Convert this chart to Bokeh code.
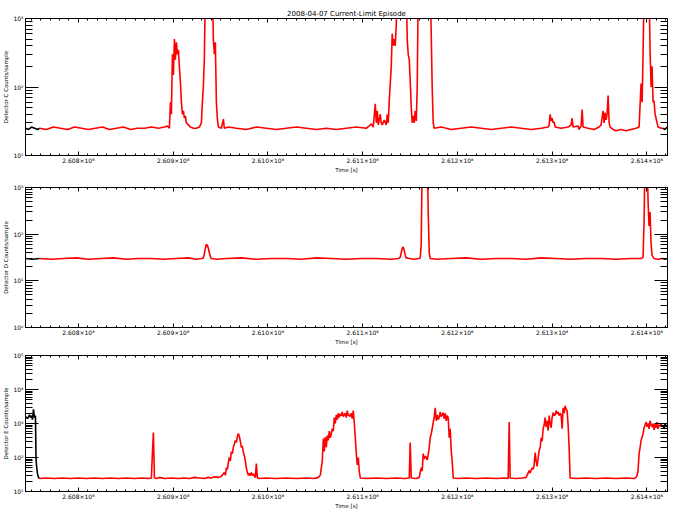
from bokeh.plotting import figure
from bokeh.layouts import column
from bokeh.models import (Range1d, FixedTicker, CustomJSTickFormatter, LinearAxis, LogAxis,
                          CustomLabelingPolicy, Spacer)
from bokeh.embed import file_html
from bokeh.resources import INLINE

# Time values are given in kiloseconds relative to 2.608e8 s
T0 = 2.608e8

# ---------------- Detector C ----------------
C_black_rel = [-55.9, -52.7, -49.6, -46.4, -43.3, -41.1]
C_black_val = [25, 24, 26, 25, 24, 25]
C_black2_rel = [617.1, 619.2, 621.3]
C_black2_val = [25, 24, 26]
C_rel = [-41.1, -33.8, -26.4, -19.0, -11.6, -4.2, 3.2, 10.5, 17.9, 25.3, 32.7, 40.1, 47.5, 54.9, 62.2, 69.6,
         77.0, 84.4, 90.7, 93.9, 96.0, 97.1, 98.1, 99.2, 100.2, 101.3, 102.3, 103.4, 104.4, 105.5, 106.5,
         107.6, 108.7, 109.7, 110.8, 111.8, 112.9, 113.9, 116.0, 118.1, 121.3, 124.5, 127.6, 129.8, 130.8,
         131.9, 132.9, 134.0, 141.4, 142.4, 143.5, 144.5, 145.6, 146.6, 147.7, 150.9, 153.0, 154.0, 158.2,
         166.7, 177.2, 187.8, 198.3, 208.9, 219.4, 230.0, 240.5, 251.1, 261.6, 272.2, 282.7, 293.3, 303.8,
         307.0, 309.1, 311.2, 313.3, 314.4, 315.4, 316.5, 318.6, 319.6, 320.7, 322.8, 324.9, 326.0, 327.0,
         328.1, 330.2, 331.2, 332.3, 333.3, 334.4, 335.5, 336.5, 346.0, 347.1, 348.1, 349.2, 350.2, 351.3,
         352.3, 353.4, 354.4, 355.5, 356.6, 357.6, 358.7, 371.3, 372.4, 373.4, 374.5, 375.5, 382.9, 393.5,
         404.0, 414.6, 425.1, 435.7, 446.2, 456.8, 467.3, 477.9, 488.4, 495.8, 496.9, 497.9, 499.0, 500.0,
         501.1, 502.1, 503.2, 509.5, 516.9, 520.1, 521.1, 522.2, 527.5, 528.5, 530.6, 531.7, 532.7, 538.0,
         544.3, 549.6, 551.7, 553.8, 554.9, 555.9, 557.0, 558.0, 559.1, 560.2, 561.2, 564.4, 567.5, 572.8,
         578.1, 583.4, 588.6, 591.8, 593.9, 595.0, 596.0, 597.1, 602.3, 603.4, 604.5, 605.5, 606.6, 607.6,
         608.7, 609.7, 610.8, 611.8, 615.0, 617.1]
C_val = [25, 24, 26, 25, 24, 26, 25, 24, 25, 26, 24, 25, 26, 24, 25, 25,
         26, 25, 26, 27, 25, 60, 40, 300, 150, 500, 250, 450, 300, 350, 200,
         120, 60, 40, 45, 35, 38, 30, 28, 26, 25, 25, 26, 30, 60,
         105, 260, 3000, 3000, 500, 300, 450, 60, 35, 26, 25, 34, 25, 26,
         25, 24, 26, 25, 24, 25, 26, 25, 24, 25, 24, 25, 26, 25,
         27, 29, 26, 57, 30, 45, 28, 40, 30, 28, 33, 28, 40, 30,
         63, 200, 600, 400, 500, 400, 800, 3000, 3000, 480, 300, 250, 125, 50,
         30, 38, 30, 45, 32, 100, 3000, 3000, 600, 100, 30, 25, 26, 24,
         25, 26, 25, 24, 25, 26, 25, 24, 25, 26, 28, 40, 32, 35,
         30, 31, 26, 25, 26, 28, 35, 26, 27, 24, 27, 47, 26, 25,
         24, 26, 28, 45, 30, 42, 33, 40, 75, 30, 26, 24, 23, 24,
         23, 24, 25, 26, 112, 60, 290, 3000, 3000, 340, 100, 200, 60, 63,
         40, 35, 30, 26, 25, 25]

# ---------------- Detector D ----------------
D_black_rel = [-55.9, -48.5, -41.1]
D_black_val = [30, 29, 30]
D_black2_rel = [617.1, 619.2, 621.3]
D_black2_val = [30, 29, 30]
D_rel = [-41.1, -28.5, -15.8, -2.1, 10.5, 24.3, 36.9, 50.6, 63.3, 77.0, 89.7, 103.4, 116.0, 124.5, 129.8,
         131.9, 132.9, 134.0, 135.0, 136.1, 137.1, 138.2, 139.2, 140.3, 145.6, 156.1, 171.9, 187.8, 203.6,
         219.4, 235.2, 251.1, 266.9, 282.7, 298.5, 314.4, 330.2, 337.6, 339.7, 340.7, 341.8, 342.8, 343.9,
         345.0, 346.0, 349.2, 354.4, 359.7, 360.8, 361.8, 362.9, 368.2, 369.2, 370.3, 371.3, 377.7, 393.5,
         409.3, 425.1, 441.0, 456.8, 472.6, 488.4, 504.2, 520.1, 535.9, 551.7, 567.5, 583.4, 593.9, 596.0,
         597.1, 598.1, 600.2, 601.3, 602.3, 603.4, 604.5, 605.5, 607.6, 611.8, 617.1]
D_val = [30, 29, 30, 31, 29, 30, 31, 29, 30, 30, 29, 30, 31, 29, 30,
         31, 38, 50, 60, 58, 50, 40, 33, 30, 29, 30, 31, 29, 30,
         30, 29, 31, 30, 29, 30, 30, 29, 30, 32, 40, 50, 53, 45,
         35, 31, 30, 29, 30, 31, 60, 5000, 5000, 300, 40, 30, 29, 30,
         31, 29, 30, 30, 29, 31, 30, 29, 30, 30, 29, 30, 30, 32,
         200, 5000, 5000, 500, 150, 300, 60, 35, 30, 29, 30]

# ---------------- Detector E ----------------
E_black_rel = [-55.9, -53.8, -51.7, -50.6, -49.6, -48.5, -47.5, -46.4, -45.4, -44.8, -44.3, -43.3, -42.2, -41.1]
E_black_val = [1600, 1400, 1800, 1500, 1700, 1300, 2600, 1500, 1700, 94, 60, 34, 26, 24]
E_black2_rel = [617.1, 618.2, 619.2, 620.3, 621.3]
E_black2_val = [900, 700, 1000, 800, 900]
E_rel = [-41.1, -33.8, -25.3, -16.9, -8.4, 0.0, 8.4, 16.9, 25.3, 33.8, 42.2, 50.6, 59.1, 67.5, 73.8, 77.0,
         78.1, 79.1, 80.2, 82.3, 85.4, 90.7, 98.1, 105.5, 111.8, 117.1, 122.4, 127.6, 132.9, 137.1, 140.3,
         143.5, 147.7, 150.9, 154.0, 155.1, 156.1, 157.2, 158.2, 159.3, 160.3, 161.4, 162.5, 163.5, 164.6,
         165.6, 166.7, 167.7, 168.8, 169.8, 170.9, 171.9, 173.0, 174.1, 175.1, 176.2, 177.2, 178.3, 179.3,
         180.4, 181.4, 182.5, 183.6, 184.6, 185.7, 186.7, 187.8, 188.8, 189.9, 198.3, 208.9, 219.4, 230.0,
         240.5, 249.0, 253.2, 255.3, 257.4, 258.5, 259.5, 260.6, 261.6, 262.7, 263.7, 264.8, 265.8, 266.9,
         267.9, 269.0, 270.1, 271.1, 272.2, 273.2, 274.3, 275.3, 276.4, 277.4, 278.5, 279.5, 280.6, 281.7,
         282.7, 283.8, 284.8, 285.9, 286.9, 288.0, 289.0, 290.1, 291.2, 292.2, 293.3, 294.3, 295.4, 296.4,
         297.5, 303.8, 314.4, 324.9, 335.5, 343.9, 349.2, 350.2, 351.3, 356.6, 359.7, 361.8, 362.9, 363.9,
         365.0, 366.1, 367.1, 368.2, 369.2, 370.3, 371.3, 372.4, 373.4, 374.5, 375.5, 376.6, 377.7, 378.7,
         379.8, 380.8, 381.9, 382.9, 384.0, 385.0, 386.1, 387.2, 388.2, 389.3, 390.3, 391.4, 392.4, 393.5,
         394.5, 395.6, 400.9, 409.3, 419.9, 430.4, 441.0, 449.4, 453.6, 454.7, 455.7, 462.0, 468.4, 472.6,
         475.8, 476.8, 478.9, 480.0, 481.0, 482.1, 483.1, 484.2, 485.3, 486.3, 487.4, 488.4, 489.5, 490.5,
         491.6, 492.6, 493.7, 494.7, 495.8, 496.9, 497.9, 499.0, 500.0, 501.1, 502.1, 503.2, 504.2, 505.3,
         506.4, 507.4, 508.5, 509.5, 510.6, 511.6, 512.7, 513.7, 514.8, 515.8, 516.9, 518.0, 519.0, 525.3,
         535.9, 546.4, 557.0, 567.5, 578.1, 586.5, 588.6, 589.7, 590.7, 591.8, 592.9, 593.9, 595.0, 596.0,
         597.1, 598.1, 599.2, 600.2, 601.3, 602.3, 603.4, 604.5, 605.5, 606.6, 607.6, 608.7, 609.7, 610.8,
         611.8, 612.9, 613.9, 615.0, 616.1, 617.1]
E_val = [24, 25, 24, 25, 24, 25, 24, 25, 24, 25, 24, 25, 24, 25, 24, 25,
         140, 545, 25, 24, 26, 24, 25, 24, 25, 24, 26, 25, 24, 26, 25,
         27, 26, 28, 36, 30, 50, 45, 70, 100, 80, 150, 130, 200, 250,
         315, 280, 400, 505, 420, 300, 200, 220, 140, 115, 80, 50, 36, 30,
         34, 29, 36, 30, 33, 28, 26, 66, 26, 24, 25, 24, 25, 24,
         25, 24, 26, 30, 80, 360, 150, 400, 200, 450, 320, 600, 380, 500,
         700, 600, 1500, 1000, 1800, 1300, 2000, 1500, 1900, 1700, 2200, 1600, 1800, 2000,
         1500, 2400, 1700, 1800, 1600, 2000, 1400, 2400, 1000, 400, 130, 60, 100, 40,
         25, 24, 25, 24, 25, 24, 25, 275, 25, 24, 26, 50, 40, 130,
         90, 110, 100, 85, 120, 200, 380, 500, 700, 1070, 1500, 2900, 1200, 1800,
         1300, 1500, 2200, 1600, 1800, 2100, 1400, 2000, 1200, 1700, 1500, 380, 700, 160,
         80, 25, 24, 25, 24, 25, 24, 25, 24, 1100, 25, 24, 25, 26,
         41, 35, 50, 45, 60, 140, 80, 55, 100, 160, 200, 380, 300, 700,
         900, 1500, 800, 1200, 620, 1700, 1000, 750, 1500, 2100, 1700, 1800, 2400, 1900,
         2200, 1700, 2000, 1800, 700, 2900, 2000, 3300, 2600, 2400, 900, 180, 25, 24,
         25, 24, 25, 24, 25, 24, 26, 30, 41, 130, 200, 315, 400, 500,
         760, 900, 1100, 800, 1000, 700, 1200, 900, 800, 1000, 650, 950, 750, 1100,
         700, 900, 850, 1000, 800, 900]

# Axis ticks
x_major_ticks = [2.608e8, 2.609e8, 2.610e8, 2.611e8, 2.612e8, 2.613e8, 2.614e8]
x_minor_ticks = [2.6075e8 + 1e4 * i for i in range(68)]
C_decades = [1, 2, 3]
D_decades = [0, 1, 2, 3]
E_decades = [1, 2, 3, 4, 5]
X_START = T0 - 55.9e3
X_END = T0 + 621.8e3

FONT = "DejaVu Sans"
RED = "#ff0000"


def to_s(rel):
    return [T0 + r * 1000.0 for r in rel]


def log_ticker(decades):
    majors = [10.0 ** d for d in decades]
    minors = [m * 10.0 ** d for d in decades[:-1] for m in range(2, 10)]
    return FixedTicker(ticks=majors, minor_ticks=minors)


y_fmt_code = """
const sup = {'-':'\u207b','0':'\u2070','1':'\u00b9','2':'\u00b2','3':'\u00b3','4':'\u2074','5':'\u2075','6':'\u2076','7':'\u2077','8':'\u2078','9':'\u2079'};
const e = Math.round(Math.log10(tick));
return '10' + String(e).split('').map(c => sup[c]).join('');
"""
x_fmt_code = """
return (tick / 1e8).toFixed(3) + '\u00d710\u2078';
"""
hide_code = """
for (const i of indices) indices.unset(i)
return indices
"""
blank_code = "return '';"


def make_panel(frame_h, top, bottom, decades, ylabel, series, title=None):
    ylo, yhi = 10.0 ** decades[0], 10.0 ** decades[-1]
    p = figure(frame_width=642, frame_height=frame_h, x_range=Range1d(X_START, X_END),
               y_axis_type="log", y_range=Range1d(ylo, yhi),
               output_backend="svg", toolbar_location=None,
               min_border_left=21, min_border_right=4,
               min_border_top=top, min_border_bottom=bottom)
    if title:
        p.title.text = title
        p.title.align = "center"
        p.title.text_font = FONT
        p.title.text_font_size = "7px"
        p.title.text_font_style = "normal"
        p.title.text_color = "black"
        p.title.standoff = 1
        p.title.offset = 0
    else:
        p.title.visible = False
    p.grid.visible = False
    p.outline_line_color = "black"
    p.outline_line_width = 1
    p.background_fill_color = "white"
    p.border_fill_color = "white"

    xt = FixedTicker(ticks=x_major_ticks, minor_ticks=x_minor_ticks)
    yt = log_ticker(decades)
    xa = p.xaxis[0]
    xa.ticker = xt
    xa.formatter = CustomJSTickFormatter(code=x_fmt_code)
    xa.axis_label = "Time [s]"
    ya = p.yaxis[0]
    ya.ticker = yt
    ya.formatter = CustomJSTickFormatter(code=y_fmt_code)
    ya.axis_label = ylabel
    for ax, (mi, ni) in ((xa, (4, 2)), (ya, (13, 7))):
        ax.major_tick_in = mi
        ax.major_tick_out = 0
        ax.minor_tick_in = ni
        ax.minor_tick_out = 0
        ax.axis_line_color = "black"
        ax.major_tick_line_color = "black"
        ax.minor_tick_line_color = "black"
        ax.major_label_text_font = FONT
        ax.major_label_text_font_size = "6px"
        ax.major_label_text_color = "black"
        ax.axis_label_text_font = FONT
        ax.axis_label_text_font_size = "5.5px"
        ax.axis_label_text_font_style = "normal"
        ax.axis_label_text_color = "black"
        ax.major_label_standoff = 1
        ax.axis_label_standoff = 0
    ya.major_label_standoff = 2
    ya.axis_label_standoff = 1

    top_ax = LinearAxis(ticker=xt, formatter=CustomJSTickFormatter(code=blank_code),
                        major_label_text_font_size="1px", major_label_standoff=0,
                        major_label_policy=CustomLabelingPolicy(code=hide_code),
                        major_tick_in=4, major_tick_out=0, minor_tick_in=2, minor_tick_out=0)
    p.add_layout(top_ax, "above")
    right_ax = LogAxis(ticker=yt, formatter=CustomJSTickFormatter(code=blank_code),
                       major_label_text_font_size="1px", major_label_standoff=0,
                       major_label_policy=CustomLabelingPolicy(code=hide_code),
                       major_tick_in=13, major_tick_out=0, minor_tick_in=7, minor_tick_out=0)
    p.add_layout(right_ax, "right")

    for rel, val, color in series:
        p.line(to_s(rel), val, line_color=color, line_width=1.6)
    return p


p1 = make_panel(137, 10, 23, C_decades, "Detector C Counts/sample",
                [(C_rel, C_val, RED), (C_black_rel, C_black_val, "black"), (C_black2_rel, C_black2_val, "black")],
                title="2008-04-07 Current-Limit Episode")
p2 = make_panel(140, 9, 20, D_decades, "Detector D Counts/sample",
                [(D_rel, D_val, RED), (D_black_rel, D_black_val, "black"), (D_black2_rel, D_black2_val, "black")])
p3 = make_panel(136, 8, 15, E_decades, "Detector E Counts/sample",
                [(E_rel, E_val, RED), (E_black_rel, E_black_val, "black"), (E_black2_rel, E_black2_val, "black")])

top_pad = Spacer(width=10, height=7)
layout = column(top_pad, p1, p2, p3, spacing=0)
open("out.html", "w").write(file_html(layout, INLINE))
